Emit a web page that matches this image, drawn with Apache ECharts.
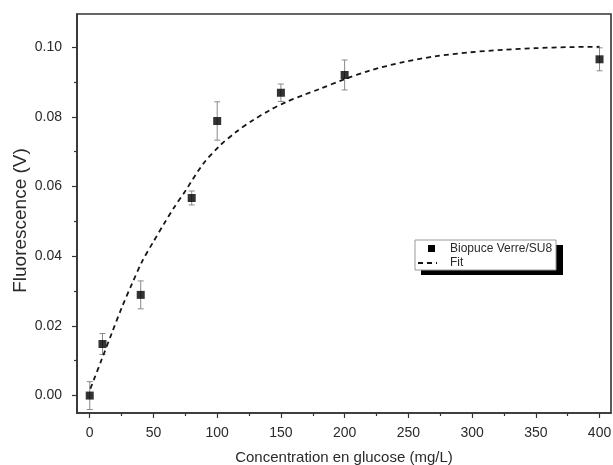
<!DOCTYPE html>
<html>
<head>
<meta charset="utf-8">
<script src="https://cdn.jsdelivr.net/npm/echarts@6/dist/echarts.min.js"></script>
<style>
html,body{margin:0;padding:0;background:#fff;}
#chart{width:613px;height:465px;}
</style>
</head>
<body>
<div id="chart"></div>
<script>
// Measured data
const concentrations = [0, 10, 40, 80, 100, 150, 200, 400];
const fluorescence = [0.0000, 0.0148, 0.0289, 0.0567, 0.0788, 0.0869, 0.0920, 0.0965];
const errors = [0.0040, 0.0030, 0.0040, 0.0020, 0.0055, 0.0025, 0.0043, 0.0033];

// Fit curve
const fitX = [0.5, 3.4, 9.2, 17.5, 25.4, 33.2, 41.1, 49.7, 58.1, 66.2, 74.6, 89, 102, 115, 128, 141.3, 154.4, 167.4, 180.5, 200, 220, 246, 272, 298, 324, 350, 377, 400];
const fitY = [0.0020, 0.0047, 0.0102, 0.0181, 0.0255, 0.0321, 0.0385, 0.0440, 0.0492, 0.0540, 0.0585, 0.0665, 0.0717, 0.0757, 0.0790, 0.0819, 0.0843, 0.0862, 0.0880, 0.0908, 0.0933, 0.0957, 0.0974, 0.0985, 0.0992, 0.0997, 0.1000, 0.1001];

// Tick values
const xMajorTicks = [0, 50, 100, 150, 200, 250, 300, 350, 400];
const xMinorTicks = [25, 75, 125, 175, 225, 275, 325, 375];
const yMajorTicks = [0, 0.02, 0.04, 0.06, 0.08, 0.10];
const yMinorTicks = [0.01, 0.03, 0.05, 0.07, 0.09];

const seriesName = 'Biopuce Verre/SU8';
const fitName = 'Fit';

const axisColor = '#333';
const textColor = '#2a2a2a';
const font = 'Liberation Sans, Arial, sans-serif';

const scatterData = concentrations.map((c, i) => [c, fluorescence[i]]);
const errData = concentrations.map((c, i) => [c, fluorescence[i] - errors[i], fluorescence[i] + errors[i]]);
const fitData = fitX.map((x, i) => [x, fitY[i]]);

const chart = echarts.init(document.getElementById('chart'), null, {renderer: 'canvas'});

const xBase = {
  type: 'value', min: -10, max: 409, gridIndex: 0, position: 'bottom',
  splitLine: {show: false}
};
const yBase = {
  type: 'value', min: -0.005, max: 0.1095, gridIndex: 0, position: 'left',
  splitLine: {show: false}
};

chart.setOption({
  animation: false,
  backgroundColor: '#fff',
  grid: {
    left: 77, right: 2, top: 14, bottom: 52,
    containLabel: false, outerBoundsMode: 'none',
    show: true, borderColor: axisColor, borderWidth: 1.6, backgroundColor: 'transparent'
  },
  xAxis: [
    Object.assign({}, xBase, {
      axisLine: {show: true, onZero: false, lineStyle: {color: axisColor, width: 1.6}},
      axisTick: {show: true, length: 5, customValues: xMajorTicks, lineStyle: {color: axisColor, width: 1.2}},
      axisLabel: {show: true, customValues: xMajorTicks, margin: 13, color: textColor, fontSize: 14, fontFamily: font},
      name: 'Concentration en glucose (mg/L)',
      nameLocation: 'middle', nameGap: 37, nameMoveOverlap: false,
      nameTextStyle: {color: textColor, fontSize: 15, fontFamily: font}
    }),
    Object.assign({}, xBase, {
      axisLine: {show: false, onZero: false},
      axisTick: {show: true, length: 3, customValues: xMinorTicks, lineStyle: {color: axisColor, width: 1.2}},
      axisLabel: {show: false}
    })
  ],
  yAxis: [
    Object.assign({}, yBase, {
      axisLine: {show: true, onZero: false, lineStyle: {color: axisColor, width: 1.6}},
      axisTick: {show: true, length: 5, customValues: yMajorTicks, lineStyle: {color: axisColor, width: 1.2}},
      axisLabel: {show: true, customValues: yMajorTicks, margin: 15, color: textColor, fontSize: 14,
        fontFamily: font, formatter: v => v.toFixed(2)},
      name: 'Fluorescence (V)',
      nameLocation: 'middle', nameGap: 47, nameMoveOverlap: false,
      nameTextStyle: {color: textColor, fontSize: 19, fontFamily: font, padding: [0, 14, 0, 0]}
    }),
    Object.assign({}, yBase, {
      axisLine: {show: false, onZero: false},
      axisTick: {show: true, length: 3, customValues: yMinorTicks, lineStyle: {color: axisColor, width: 1.2}},
      axisLabel: {show: false}
    })
  ],
  series: [
    {
      name: fitName,
      type: 'line',
      xAxisIndex: 0, yAxisIndex: 0,
      data: fitData,
      smooth: 0.3,
      symbol: 'none',
      lineStyle: {color: '#151515', width: 1.8, type: [5, 4]},
      z: 3
    },
    {
      name: 'errors',
      type: 'custom',
      xAxisIndex: 0, yAxisIndex: 0,
      data: errData,
      encode: {x: 0, y: [1, 2]},
      renderItem: function (params, api) {
        const x = api.value(0);
        const lo = api.coord([x, api.value(1)]);
        const hi = api.coord([x, api.value(2)]);
        const cap = 3;
        const st = {stroke: '#8a8a8a', lineWidth: 1};
        return {
          type: 'group',
          children: [
            {type: 'line', shape: {x1: lo[0], y1: lo[1], x2: hi[0], y2: hi[1]}, style: st},
            {type: 'line', shape: {x1: lo[0] - cap, y1: lo[1], x2: lo[0] + cap, y2: lo[1]}, style: st},
            {type: 'line', shape: {x1: hi[0] - cap, y1: hi[1], x2: hi[0] + cap, y2: hi[1]}, style: st}
          ]
        };
      },
      z: 2
    },
    {
      name: seriesName,
      type: 'scatter',
      xAxisIndex: 0, yAxisIndex: 0,
      data: scatterData,
      symbol: 'rect',
      symbolSize: 8,
      itemStyle: {color: '#000'},
      z: 4
    }
  ],
  graphic: [
    {type: 'rect', shape: {x: 421, y: 245, width: 142, height: 30}, style: {fill: '#000'}, z: 10},
    {type: 'rect', shape: {x: 415, y: 240, width: 141, height: 30}, style: {fill: '#fff', stroke: '#9a9a9a', lineWidth: 1}, z: 11},
    {type: 'rect', shape: {x: 428, y: 245, width: 7, height: 7}, style: {fill: '#000'}, z: 12},
    {type: 'text', x: 450, y: 249, style: {text: seriesName, fill: textColor, fontSize: 12, fontFamily: font, verticalAlign: 'middle'}, z: 12},
    {type: 'line', shape: {x1: 418, y1: 263, x2: 437, y2: 263}, style: {stroke: '#151515', lineWidth: 1.8, lineDash: [5, 4]}, z: 12},
    {type: 'text', x: 450, y: 263, style: {text: fitName, fill: textColor, fontSize: 12, fontFamily: font, verticalAlign: 'middle'}, z: 12}
  ]
});
</script>
</body>
</html>
